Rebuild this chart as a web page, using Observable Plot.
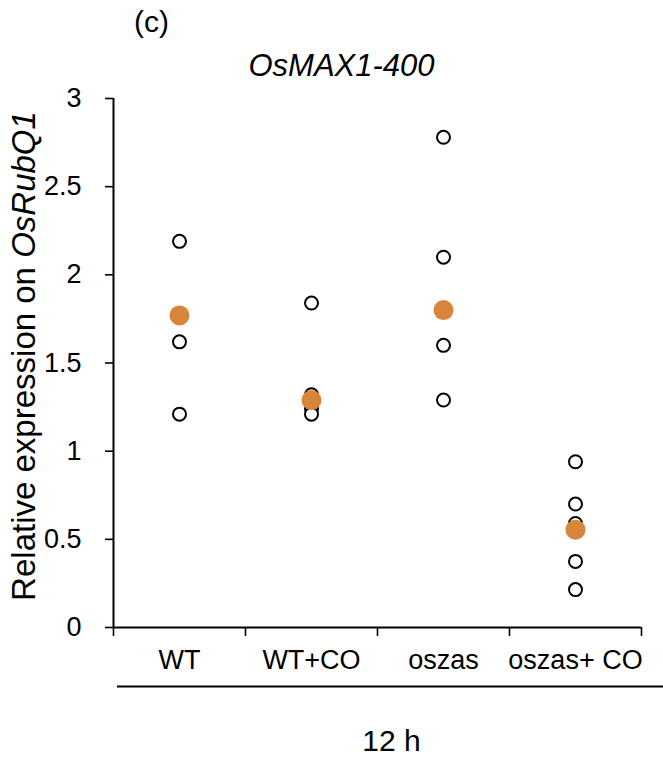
<!DOCTYPE html>
<html>
<head>
<meta charset="utf-8">
<script src="https://cdn.jsdelivr.net/npm/d3@7"></script>
<script src="https://cdn.jsdelivr.net/npm/@observablehq/plot@0.6"></script>
<style>
  html, body { margin: 0; padding: 0; background: #fff; }
  #chart svg { display: block; }
</style>
</head>
<body>
<div id="chart"></div>
<script>
// Treatment groups along the x axis
const groups = ["WT", "WT+CO", "oszas", "oszas+ CO"];

// Individual replicates (open circles)
const replicateGroup = [
  "WT", "WT", "WT",
  "WT+CO", "WT+CO", "WT+CO", "WT+CO",
  "oszas", "oszas", "oszas", "oszas",
  "oszas+ CO", "oszas+ CO", "oszas+ CO", "oszas+ CO", "oszas+ CO"
];
const replicateValue = [
  2.19, 1.62, 1.21,
  1.84, 1.32, 1.24, 1.21,
  2.78, 2.10, 1.60, 1.29,
  0.94, 0.70, 0.59, 0.375, 0.215
];

// Group averages (filled orange points)
const meanValue = [1.77, 1.29, 1.80, 0.555];

const yTicks = [0, 0.5, 1, 1.5, 2, 2.5, 3];
const yLabel = "Relative expression on OsRubQ1";
const panelTag = "(c)";
const geneName = "OsMAX1-400";
const timeLabel = "12 h";

const replicates = replicateGroup.map((g, i) => ({group: g, value: replicateValue[i]}));
const means = groups.map((g, i) => ({group: g, value: meanValue[i]}));
const xOf = d => groups.indexOf(d.group);
const bandEdges = d3.range(groups.length + 1).map(i => i - 0.5);

const chart = Plot.plot({
  width: 663,
  height: 769,
  marginLeft: 113,
  marginRight: 22,
  marginTop: 98,
  marginBottom: 142,
  style: {
    fontFamily: "'Liberation Sans', Arial, sans-serif",
    fontSize: "27px",
    color: "#000",
    background: "#fff",
    overflow: "visible"
  },
  x: {type: "linear", domain: [-0.5, groups.length - 0.5], axis: null},
  y: {domain: [0, 3], axis: null},
  marks: [
    // y axis: ticks, labels and spine
    Plot.axisY({ticks: yTicks, tickSize: 8, tickPadding: 24, tickFormat: d => String(d), label: null, fontSize: 27, strokeWidth: 1.6}),
    Plot.ruleX([-0.5], {stroke: "#000", strokeWidth: 2}),
    // x axis: spine, band edge ticks, category labels
    Plot.ruleY([0], {stroke: "#000", strokeWidth: 2}),
    Plot.axisX({ticks: bandEdges, tickSize: 9, tickFormat: () => "", label: null, strokeWidth: 1.6}),
    Plot.axisX({ticks: d3.range(groups.length), tickSize: 0, tickPadding: 22, tickFormat: i => groups[i], label: null, fontSize: 27}),
    // grouping line and its label under the categories
    Plot.ruleY([0], {dy: 59, insetLeft: 4, insetRight: -22, stroke: "#000", strokeWidth: 2}),
    Plot.text([timeLabel], {frameAnchor: "bottom", lineAnchor: "middle", dx: 14, dy: 114, fontSize: 30}),
    // replicates, then group means on top
    Plot.dot(replicates, {x: xOf, y: "value", r: 6.5, fill: "#fff", stroke: "#000", strokeWidth: 2}),
    Plot.dot(means, {x: xOf, y: "value", r: 10, fill: "#D9843B", stroke: "none"}),
    // titles
    Plot.text([panelTag], {frameAnchor: "top-left", lineAnchor: "middle", textAnchor: "middle", dx: 38, dy: -76, fontSize: 30}),
    Plot.text([geneName], {frameAnchor: "top", lineAnchor: "middle", textAnchor: "middle", dx: -36, dy: -32, fontSize: 31, fontStyle: "italic"}),
    Plot.text([yLabel], {frameAnchor: "left", lineAnchor: "middle", textAnchor: "middle", dx: -89, dy: -7, rotate: -90, fontSize: 33})
  ]
});

// set the gene name inside the y label in italics
for (const t of chart.querySelectorAll("text")) {
  if (t.textContent === yLabel) {
    const gene = "OsRubQ1";
    t.textContent = yLabel.slice(0, yLabel.length - gene.length);
    const ts = document.createElementNS("http://www.w3.org/2000/svg", "tspan");
    ts.setAttribute("font-style", "italic");
    ts.textContent = gene;
    t.appendChild(ts);
  }
}

document.getElementById("chart").appendChild(chart);
</script>
</body>
</html>
